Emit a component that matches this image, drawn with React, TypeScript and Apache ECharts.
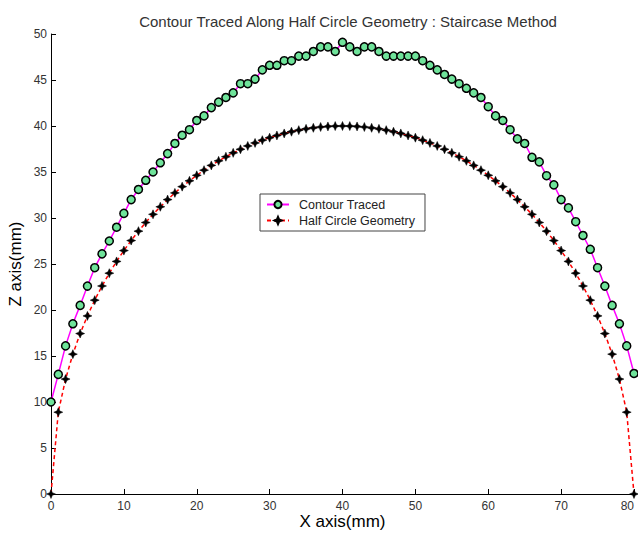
import React, { useEffect, useRef } from "react";
import * as echarts from "echarts";

const xValues: number[] = [
  0, 1, 2, 3, 4, 5, 6, 7, 8, 9, 10, 11, 12, 13, 14, 15, 16, 17, 18, 19, 20,
  21, 22, 23, 24, 25, 26, 27, 28, 29, 30, 31, 32, 33, 34, 35, 36, 37, 38, 39, 40,
  41, 42, 43, 44, 45, 46, 47, 48, 49, 50, 51, 52, 53, 54, 55, 56, 57, 58, 59, 60,
  61, 62, 63, 64, 65, 66, 67, 68, 69, 70, 71, 72, 73, 74, 75, 76, 77, 78, 79, 80,
];

const contourTraced: number[] = [
  10.0, 13.0, 16.1, 18.5, 20.5, 22.6, 24.6, 26.1, 27.5, 29.0, 30.5,
  32.0, 33.1, 34.1, 35.0, 36.0, 37.0, 38.1, 39.0, 39.6, 40.6,
  41.1, 42.0, 42.6, 43.1, 43.6, 44.6, 44.6, 45.1, 46.1, 46.6,
  46.6, 47.1, 47.1, 47.6, 47.6, 48.1, 48.6, 48.6, 48.1, 49.1,
  48.6, 48.1, 48.6, 48.6, 48.1, 47.6, 47.6, 47.6, 47.6, 47.6,
  47.1, 46.6, 46.1, 45.6, 45.1, 44.6, 44.1, 43.6, 43.1, 42.1,
  41.1, 40.6, 39.6, 38.6, 38.1, 36.6, 36.1, 34.6, 33.6, 32.0,
  31.1, 29.6, 28.1, 26.6, 24.6, 22.6, 20.5, 18.5, 16.1, 13.1,
];

const halfCircle: number[] = [
  0, 8.89, 12.49, 15.2, 17.44, 19.36, 21.07, 22.61, 24.0, 25.28, 26.46,
  27.55, 28.57, 29.51, 30.4, 31.22, 32.0, 32.73, 33.41, 34.04, 34.64,
  35.2, 35.72, 36.21, 36.66, 37.08, 37.47, 37.83, 38.16, 38.46, 38.73,
  38.97, 39.19, 39.38, 39.55, 39.69, 39.8, 39.89, 39.95, 39.99, 40.0,
  39.99, 39.95, 39.89, 39.8, 39.69, 39.55, 39.38, 39.19, 38.97, 38.73,
  38.46, 38.16, 37.83, 37.47, 37.08, 36.66, 36.21, 35.72, 35.2, 34.64,
  34.04, 33.41, 32.73, 32.0, 31.22, 30.4, 29.51, 28.57, 27.55, 26.46,
  25.28, 24.0, 22.61, 21.07, 19.36, 17.44, 15.2, 12.49, 8.89, 0,
];

const seriesNames: string[] = ["Contour Traced", "Half Circle Geometry"];

const starPath =
  "path://M0,-6 L1.8,-1.8 L6,0 L1.8,1.8 L0,6 L-1.8,1.8 L-6,0 L-1.8,-1.8 Z";

export default function App() {
  const ref = useRef<HTMLDivElement>(null);

  useEffect(() => {
    if (!ref.current) return;
    const chart = echarts.init(ref.current, null, { renderer: "svg" });
    const font = "Liberation Sans, Arial, sans-serif";
    chart.setOption({
      animation: false,
      backgroundColor: "#ffffff",
      textStyle: { fontFamily: font },
      title: {
        text: "Contour Traced Along Half Circle Geometry : Staircase Method",
        left: 343,
        textAlign: "center",
        top: 9,
        textStyle: { fontSize: 15, fontWeight: "normal", color: "#333", fontFamily: font },
      },
      legend: {
        orient: "vertical",
        left: 260,
        top: 194,
        width: 165,
        padding: [4, 10, 4, 6],
        itemGap: 3,
        itemWidth: 22,
        itemHeight: 9,
        borderColor: "#444",
        borderWidth: 1,
        backgroundColor: "#fff",
        data: seriesNames,
        textStyle: { fontSize: 12.5, color: "#222", fontFamily: font, padding: [0, 0, 0, 5] },
      },
      grid: {
        left: 51,
        right: 4,
        top: 34,
        bottom: 39,
        containLabel: false,
        outerBoundsMode: "none",
      },
      xAxis: {
        type: "value",
        min: 0,
        max: 80,
        interval: 10,
        name: "X axis(mm)",
        nameLocation: "middle",
        nameGap: 19,
        nameMoveOverlap: false,
        nameTextStyle: { fontSize: 17, color: "#000", fontFamily: font },
        axisLine: { show: true, onZero: false, lineStyle: { color: "#000", width: 1 } },
        axisTick: { show: true, inside: true, length: 5, lineStyle: { color: "#000" } },
        axisLabel: {
          fontSize: 12,
          color: "#333",
          margin: 6,
          fontFamily: font,
          alignMaxLabel: "right",
        },
        splitLine: { show: false },
      },
      yAxis: {
        type: "value",
        min: 0,
        max: 50,
        interval: 5,
        name: "Z axis(mm)",
        nameLocation: "middle",
        nameGap: 27,
        nameRotate: 90,
        nameMoveOverlap: false,
        nameTextStyle: { fontSize: 17, color: "#000", fontFamily: font },
        axisLine: { show: true, onZero: false, lineStyle: { color: "#000", width: 1 } },
        axisTick: { show: true, inside: true, length: 5, lineStyle: { color: "#000" } },
        axisLabel: { fontSize: 12, color: "#333", margin: 4, fontFamily: font },
        splitLine: { show: false },
      },
      series: [
        {
          name: seriesNames[0],
          type: "line",
          data: xValues.map((x, i) => [x, contourTraced[i]]),
          symbol: "circle",
          symbolSize: 8,
          showAllSymbol: true,
          clip: false,
          lineStyle: { color: "#ff00ff", width: 1.5 },
          itemStyle: { color: "#6fe39a", borderColor: "#000", borderWidth: 1.5 },
          z: 2,
        },
        {
          name: seriesNames[1],
          type: "line",
          data: xValues.map((x, i) => [x, halfCircle[i]]),
          symbol: starPath,
          symbolSize: 9,
          showAllSymbol: true,
          clip: false,
          lineStyle: { color: "#ff0000", width: 1.5, type: [4, 3] },
          itemStyle: { color: "#000", borderColor: "#000", borderWidth: 0.5 },
          z: 3,
        },
      ],
    });
    return () => chart.dispose();
  }, []);

  return (
    <div
      ref={ref}
      style={{ width: 638, height: 533, position: "absolute", left: 0, top: 0 }}
    />
  );
}
